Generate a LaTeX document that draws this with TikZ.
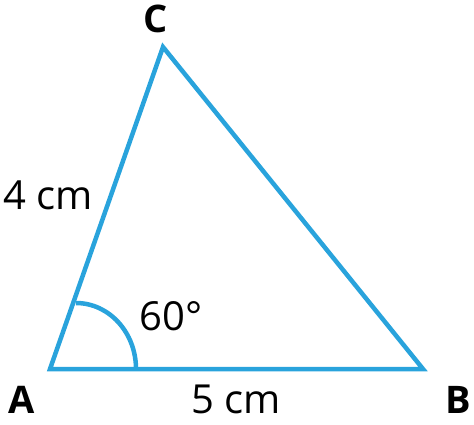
\documentclass[tikz,border=0pt]{standalone}
\usepackage{fontspec}
\setmainfont{Open Sans}
\usepackage{tikz}
\definecolor{triblue}{RGB}{41,163,220}
\tikzset{
	side/.style={line width=4.5pt, draw=triblue},
	vertexlabel/.style={font=\fontsize{38}{40}\selectfont\bfseries, inner sep=0pt},
	measure/.style={font=\fontsize{40}{44}\selectfont, inner sep=0pt}
}

\begin{document}
\begin{tikzpicture}[x=1pt, y=1pt]
			\useasboundingbox (0,0) rectangle (474,424);

			\coordinate (A) at (50,55);
			\coordinate (B) at (423,55);
			\coordinate (C) at (163,377);

			\draw [side] (A) -- (B) -- (C) -- cycle;
			\draw [side] (136,55) arc [start angle=0, end angle=90, x radius=60, y radius=66];

			\node [vertexlabel] (labA) at (22,24.5) {A};
			\node [vertexlabel] (labB) at (458,24.5) {B};
			\node [vertexlabel] (labC) at (156,405) {C};

			\node [measure] (sideAC) at (48,229) {4 cm};
			\node [measure] (sideAB) at (236,25) {5 cm};
			\node [measure] (angA) at (171,108) {60°};
		\end{tikzpicture}
\end{document}
